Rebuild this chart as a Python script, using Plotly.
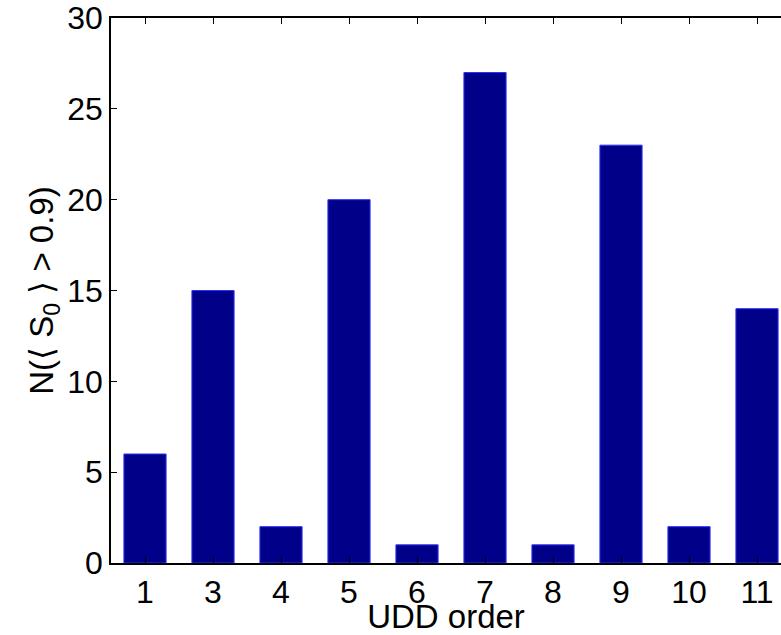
import plotly.graph_objects as go

categories = ["1", "3", "4", "5", "6", "7", "8", "9", "10", "11"]
values = [6, 15, 2, 20, 1, 27, 1, 23, 2, 14]
positions = list(range(1, len(categories) + 1))
y_ticks = [0, 5, 10, 15, 20, 25, 30]

FONT = "Liberation Sans, Arial, sans-serif"

fig = go.Figure(
    go.Bar(
        x=positions,
        y=values,
        width=0.62,
        marker=dict(color="#000088", line=dict(color="#3030ff", width=1)),
    )
)

fig.update_layout(
    width=781,
    height=635,
    margin=dict(l=111, r=0, t=18, b=72),
    plot_bgcolor="white",
    paper_bgcolor="white",
    showlegend=False,
    font=dict(family=FONT, size=32, color="black"),
    xaxis=dict(
        range=[0.5, 10.353],
        tickmode="array",
        tickvals=positions,
        ticktext=categories,
        ticks="inside",
        ticklen=6,
        tickcolor="black",
        showline=True,
        linecolor="black",
        linewidth=1.5,
        mirror="ticks",
        showgrid=False,
        zeroline=False,
        tickfont=dict(size=32),
        title=dict(text="UDD order", font=dict(size=33), standoff=0),
    ),
    yaxis=dict(
        range=[0, 30],
        tickmode="array",
        tickvals=y_ticks,
        ticks="inside",
        ticklen=6,
        tickcolor="black",
        showline=True,
        linecolor="black",
        linewidth=1.5,
        showgrid=False,
        zeroline=False,
        tickfont=dict(size=32),
        title=dict(text="N(⟨ S<sub>0</sub> ⟩ > 0.9)", font=dict(size=33), standoff=4),
    ),
)

fig.write_html("out.html")
